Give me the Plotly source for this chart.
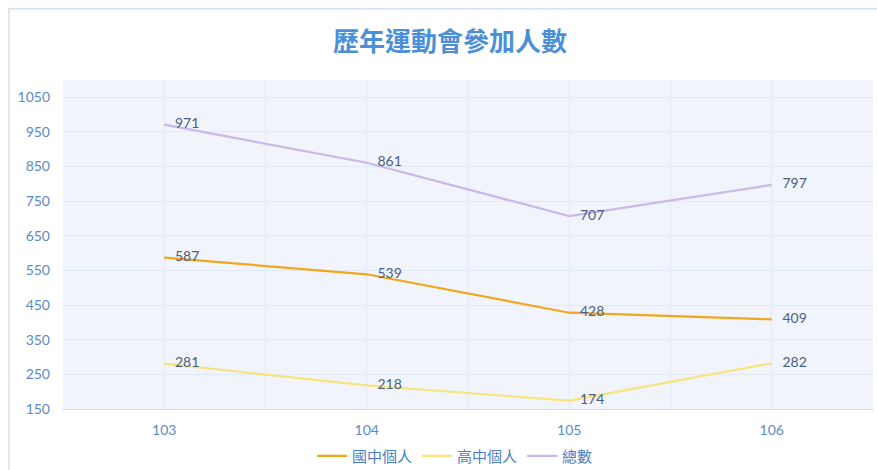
import plotly.graph_objects as go

years = ["103", "104", "105", "106"]
junior = [587, 539, 428, 409]
senior = [281, 218, 174, 282]
total = [971, 861, 707, 797]
series_names = ["國中個人", "高中個人", "總數"]
y_ticks = [150, 250, 350, 450, 550, 650, 750, 850, 950, 1050]

colors = ["#f0a71e", "#f8e47c", "#c9b8ea"]
font_family = "Lato, 'Noto Sans CJK TC', sans-serif"

xs = list(range(len(years)))
fig = go.Figure()
for name, vals, c in zip(series_names, [junior, senior, total], colors):
    fig.add_trace(go.Scatter(
        x=xs, y=vals, name=name, mode="lines+text",
        line=dict(color=c, width=2.2),
        text=["\u00a0\u00a0\u00a0" + str(v) for v in vals], textposition="middle right",
        textfont=dict(color="#4b5d86", size=14, family=font_family),
        cliponaxis=False,
    ))

fig.update_layout(
    width=877, height=470,
    margin=dict(l=63, r=4, t=80, b=61, autoexpand=False),
    paper_bgcolor="white",
    plot_bgcolor="#f1f5fb",
    font=dict(family=font_family, color="#5b8ac9", size=14),
    title=dict(text="<b>歷年運動會參加人數</b>", x=0.513, xanchor="center",
               y=1 - 42 / 470, yanchor="middle",
               font=dict(size=26, color="#4b8fd9", family="'Noto Sans CJK TC', sans-serif")),
    showlegend=True,
    legend=dict(orientation="h", x=0.484, xanchor="center", y=-0.143, yanchor="middle",
                font=dict(size=15, color="#4b7fc8", family="'Noto Sans CJK TC', sans-serif"),
                itemwidth=30, bgcolor="rgba(0,0,0,0)"),
    shapes=[dict(type="rect", xref="paper", yref="paper",
                 x0=-0.0667, x1=1.2, y0=-0.4, y1=1.216,
                 line=dict(color="#c9dcf3", width=1.2), layer="below")],
)
fig.update_xaxes(
    range=[-0.5, len(years) - 0.5],
    tickvals=xs, ticktext=years,
    showgrid=True, gridcolor="#e2e9f6", gridwidth=1,
    minor=dict(tickvals=[i + 0.5 for i in range(-1, len(years))], showgrid=True,
               gridcolor="#e2e9f6", gridwidth=1, ticks=""),
    showline=True, linecolor="#cfdcf0", linewidth=1,
    ticks="", ticklabelstandoff=8, zeroline=False,
    tickfont=dict(size=14, color="#5b8ac9"),
)
fig.update_yaxes(
    range=[150, 1100],
    tickvals=y_ticks,
    showgrid=True, gridcolor="#e2e9f6", gridwidth=1,
    showline=False, zeroline=False, ticks="",
    tickfont=dict(size=14, color="#5b8ac9"),
    ticklabelstandoff=12,
)

fig.write_html("out.html")
